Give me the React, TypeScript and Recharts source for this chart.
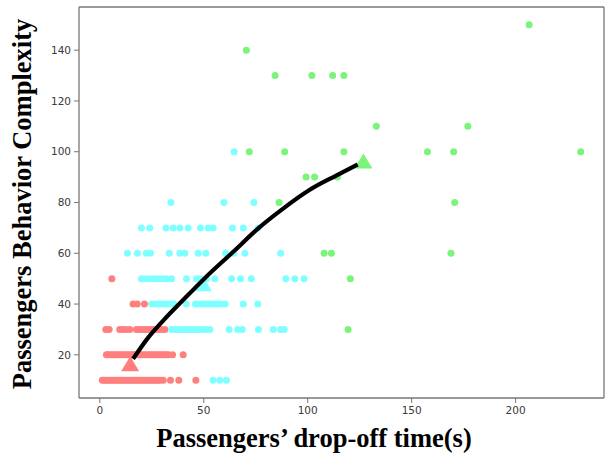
import React from 'react';
import { ScatterChart, Scatter, XAxis, YAxis } from 'recharts';

// ---- tick labels ----
const xTicks = [0, 50, 100, 150, 200];
const yTicks = [20, 40, 60, 80, 100, 120, 140];

// ---- cluster 1 (red): x values per complexity level ----
const red10 = [1.2, 2, 3, 4, 5, 6, 7, 8, 9, 10, 11, 12, 13, 14, 15, 16, 17, 18, 19, 20, 21, 22, 23, 24, 25, 26, 27, 28, 29, 30.5, 34, 38, 46.2];
const red20 = [3.2, 4, 5, 6, 7, 8, 9, 10, 11, 12, 13, 14, 15, 16, 17, 18, 19, 20, 21, 22, 23, 24, 25, 26, 27, 28, 29, 30, 31, 32, 33, 35, 40.1];
const red30 = [2.9, 4.5, 9.6, 11, 12.5, 14.4, 17.6, 19, 20.5, 22, 23.5, 25, 26.5, 28, 29.5, 31.3];
const red40 = [16, 18, 21.5];
const red50 = [5.8];

// ---- cluster 2 (cyan) ----
const cyan10 = [54.5, 57.7, 60.9];
const cyan30 = [34.5, 36, 37.5, 39, 40.5, 42, 43.5, 45, 46.5, 48, 49.5, 51, 52.9, 62.2, 66.3, 68.5, 76.3, 83.4, 87, 88.7];
const cyan40 = [25, 26.5, 28, 29.5, 31, 32.5, 34, 35.5, 41.6, 46, 47.5, 49, 50.5, 52, 53.5, 55, 56.5, 58, 60.3, 69, 76];
const cyan50 = [20, 22, 24, 26, 28, 30, 32, 34.5, 41.7, 46.5, 48.4, 51.3, 55.3, 63.4, 67.7, 72.9, 89.5, 93.8, 98.2];
const cyan60 = [13.3, 18.1, 22.4, 24.4, 33.4, 38.5, 40.9, 47.3, 51, 60.5, 64.5, 69.8, 87];
const cyan70 = [20, 24, 31.8, 35.3, 38.5, 42.5, 48.4, 52.1, 54.5, 63.8, 69, 76.2];
const cyan80 = [34.2, 59.7, 74.1];
const cyan100 = [64.6];

// ---- cluster 3 (green) ----
const green30 = [119.4];
const green50 = [120.5];
const green60 = [107.9, 111.4, 168.9];
const green80 = [86.2, 170.7];
const green90 = [99.2, 103.3, 114.3];
const green100 = [71.9, 88.9, 117.4, 157.6, 170.2, 231.3];
const green110 = [133, 177];
const green130 = [84.3, 102, 112, 117.4];
const green140 = [70.5];
const green150 = [206.5];

// ---- cluster centres ----
const redCentre = [{ x: 14.6, y: 16.5 }];
const cyanCentre = [{ x: 49.6, y: 48 }];
const greenCentre = [{ x: 126.8, y: 96.3 }];

// ---- trend curve ----
const curveX = [16, 23, 30.5, 40.9, 50.5, 64.2, 76.2, 88, 101, 113.9, 124];
const curveY = [18.4, 26.5, 33.5, 42.3, 50.2, 60.6, 69.8, 77.5, 85, 90.7, 95];

const rows = (list: [number, number[]][]) =>
  list.flatMap(([y, xs]) => xs.map((x) => ({ x, y })));

const redData = rows([[10, red10], [20, red20], [30, red30], [40, red40], [50, red50]]);
const cyanData = rows([[10, cyan10], [30, cyan30], [40, cyan40], [50, cyan50], [60, cyan60], [70, cyan70], [80, cyan80], [100, cyan100]]);
const greenData = rows([[30, green30], [50, green50], [60, green60], [80, green80], [90, green90], [100, green100], [110, green110], [130, green130], [140, green140], [150, green150]]);
const curveData = curveX.map((x, i) => ({ x, y: curveY[i] }));

const X_DOMAIN: [number, number] = [-10, 242.5];
const Y_DOMAIN: [number, number] = [3, 157];

const RED = '#ff7f7f';
const CYAN = '#7fffff';
const GREEN = '#7af47a';
const FRAME = '#777777';

const dot = (fill: string) => (p: any) => (
  <circle cx={p.cx} cy={p.cy} r={3.5} fill={fill} />
);
const tri = (fill: string) => (p: any) => (
  <polygon
    points={`${p.cx},${p.cy - 7.5} ${p.cx - 9},${p.cy + 7.5} ${p.cx + 9},${p.cy + 7.5}`}
    fill={fill}
  />
);

const tickStyle = { fontSize: 10.5, fill: '#3a3a3a', fontFamily: '"DejaVu Sans", sans-serif' };
const titleFont = '"Liberation Serif", "Times New Roman", serif';

export default function App() {
  return (
    <div style={{ position: 'absolute', left: 0, top: 0, width: 608, height: 457, background: '#fff' }}>
      <ScatterChart width={608} height={457} margin={{ top: 6, right: 3, bottom: 0, left: 0 }}>
        <XAxis
          type="number"
          dataKey="x"
          domain={X_DOMAIN}
          ticks={xTicks}
          allowDataOverflow
          height={59}
          tickSize={5}
          tickMargin={4}
          tick={tickStyle}
          stroke={FRAME}
          axisLine={{ stroke: FRAME, strokeWidth: 1.3 }}
          tickLine={{ stroke: FRAME }}
        />
        <XAxis
          xAxisId="top"
          orientation="top"
          type="number"
          dataKey="x"
          domain={X_DOMAIN}
          allowDataOverflow
          height={1}
          tick={false}
          tickLine={false}
          axisLine={{ stroke: FRAME, strokeWidth: 1.3 }}
        />
        <YAxis
          type="number"
          dataKey="y"
          domain={Y_DOMAIN}
          ticks={yTicks}
          allowDataOverflow
          width={79}
          tickSize={5}
          tickMargin={3}
          tick={tickStyle}
          stroke={FRAME}
          axisLine={{ stroke: FRAME, strokeWidth: 1.3 }}
          tickLine={{ stroke: FRAME }}
        />
        <YAxis
          yAxisId="right"
          orientation="right"
          type="number"
          dataKey="y"
          domain={Y_DOMAIN}
          allowDataOverflow
          width={1}
          tick={false}
          tickLine={false}
          axisLine={{ stroke: FRAME, strokeWidth: 1.3 }}
        />
        <Scatter data={redData} shape={dot(RED)} isAnimationActive={false} />
        <Scatter data={cyanData} shape={dot(CYAN)} isAnimationActive={false} />
        <Scatter data={greenData} shape={dot(GREEN)} isAnimationActive={false} />
        <Scatter data={redCentre} shape={tri(RED)} isAnimationActive={false} />
        <Scatter data={cyanCentre} shape={tri(CYAN)} isAnimationActive={false} />
        <Scatter data={greenCentre} shape={tri(GREEN)} isAnimationActive={false} />
        <Scatter
          xAxisId="top"
          yAxisId="right"
          data={curveData}
          shape={() => <g />}
          line={{ stroke: '#000', strokeWidth: 4.2, fill: 'none' }}
          lineType="joint"
          lineJointType="monotoneX"
          isAnimationActive={false}
        />
      </ScatterChart>
      <svg
        width={608}
        height={457}
        style={{ position: 'absolute', left: 0, top: 0, pointerEvents: 'none' }}
      >
        <text
          x={314}
          y={447}
          textAnchor="middle"
          fontFamily={titleFont}
          fontWeight="bold"
          fontSize={26.5}
          fill="#000"
        >
          Passengers’ drop-off time(s)
        </text>
        <text
          x={31}
          y={204}
          transform="rotate(-90 31 204)"
          textAnchor="middle"
          fontFamily={titleFont}
          fontWeight="bold"
          fontSize={26.5}
          fill="#000"
        >
          Passengers Behavior Complexity
        </text>
      </svg>
    </div>
  );
}
